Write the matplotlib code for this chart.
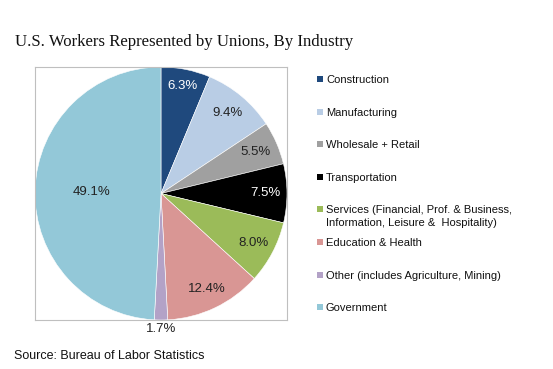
"""
Union representation by industry -- pie chart with Excel-style legend.
"""

import matplotlib.pyplot as plt
import numpy as np
from matplotlib.patches import Rectangle

# ── Data ─────────────────────────────────────
industries = [
    "Construction",
    "Manufacturing",
    "Wholesale + Retail",
    "Transportation",
    "Services (Financial, Prof. & Business,\nInformation, Leisure &  Hospitality)",
    "Education & Health",
    "Other (includes Agriculture, Mining)",
    "Government",
]
shares = [6.3, 9.4, 5.5, 7.5, 8.0, 12.4, 1.7, 49.1]

# ── Style ────────────────────────────────────
colors = ["#1F497D", "#B9CDE5", "#A0A0A0", "#000000",
          "#9BBB59", "#D99694", "#B3A2C7", "#93C8D8"]
label_colors = ["white", "#222222", "#222222", "white",
                "#222222", "#222222", "#222222", "#222222"]
label_dist = [0.87, 0.83, 0.82, 0.83, 0.83, 0.84, 1.07, 0.55]

W, H = 553, 369
fig = plt.figure(figsize=(W / 100, H / 100), dpi=100)
fig.patch.set_facecolor("white")

# pie box (pixels): left 35, top 67, right 287, bottom 320
ax = fig.add_axes([35 / W, 1 - 320 / H, 252 / W, 253 / H])
wedges, _ = ax.pie(shares, colors=colors, startangle=90, counterclock=False,
                   radius=1.0, wedgeprops=dict(edgecolor="white", linewidth=0.4))
ax.set_xlim(-1.0, 1.0)
ax.set_ylim(-1.0, 1.0)
ax.set_aspect("auto")
ax.set_frame_on(True)
ax.set_xticks([])
ax.set_yticks([])
for s in ax.spines.values():
    s.set_visible(True)
    s.set_color("#BFBFBF")
    s.set_linewidth(0.8)

# percentage labels at wedge mid-angles
for w, val, c, d in zip(wedges, shares, label_colors, label_dist):
    mid = np.deg2rad((w.theta1 + w.theta2) / 2)
    ax.text(d * np.cos(mid), d * np.sin(mid), f"{val:.1f}%",
            ha="center", va="center", color=c, fontsize=9.5,
            family="Liberation Sans")

# ── Legend (manual, Excel spacing) ───────────
y0, step = 79, 32.6
for i, (name, col) in enumerate(zip(industries, colors)):
    y = y0 + i * step
    fig.patches.append(Rectangle((317 / W, 1 - (y + 3) / H), 6 / W, 6 / H,
                                 transform=fig.transFigure, facecolor=col,
                                 edgecolor="none"))
    fig.text(326 / W, 1 - (y - 4) / H, name, ha="left", va="top",
             fontsize=8, family="Liberation Sans", color="#111111",
             linespacing=1.35)

# ── Titles ───────────────────────────────────
fig.text(15 / W, 1 - 42 / H, "U.S. Workers Represented by Unions, By Industry",
         ha="left", va="center", fontsize=12.1, family="Liberation Serif",
         color="#111111")
fig.text(14 / W, 1 - 356 / H, "Source: Bureau of Labor Statistics",
         ha="left", va="center", fontsize=9, family="Liberation Sans",
         color="#111111")

fig.savefig("out.png", dpi=100)
